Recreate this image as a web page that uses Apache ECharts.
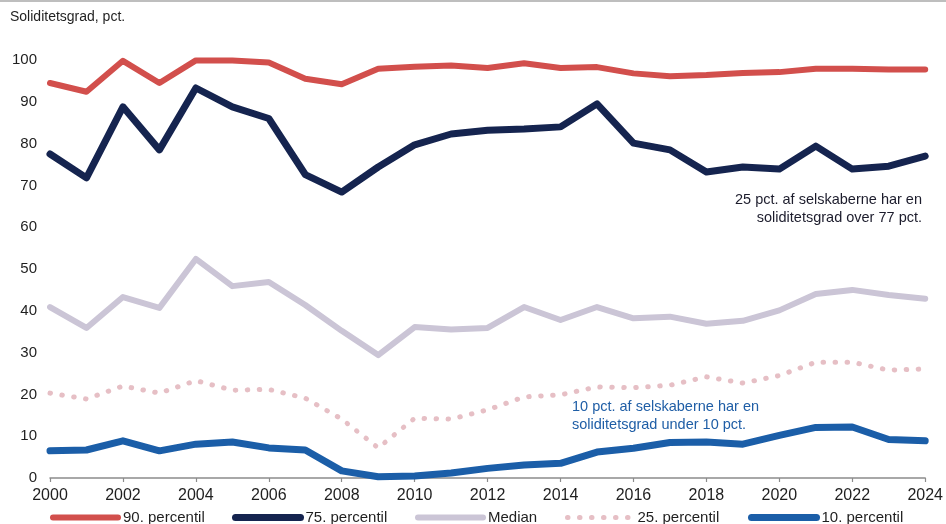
<!DOCTYPE html>
<html>
<head>
<meta charset="utf-8">
<script src="https://cdn.jsdelivr.net/npm/echarts@6/dist/echarts.min.js"></script>
<style>
  html, body { margin: 0; padding: 0; background: #fff; }
  #chart { width: 946px; height: 524px; }
</style>
</head>
<body>
<div id="chart"></div>
<script>
// Soliditetsgrad (equity ratio) percentiles, 2000-2024
const years = [2000, 2001, 2002, 2003, 2004, 2005, 2006, 2007, 2008, 2009, 2010, 2011, 2012,
               2013, 2014, 2015, 2016, 2017, 2018, 2019, 2020, 2021, 2022, 2023, 2024];
const p90 = [94.5, 92.4, 99.8, 94.5, 99.9, 99.9, 99.4, 95.5, 94.2, 97.9, 98.4, 98.7, 98.1,
             99.2, 98.1, 98.3, 96.8, 96.1, 96.4, 96.9, 97.1, 97.9, 97.9, 97.7, 97.7];
const p75 = [77.5, 71.8, 88.8, 78.5, 93.3, 88.8, 86.0, 72.6, 68.4, 74.4, 79.7, 82.3, 83.2,
             83.5, 84.0, 89.5, 80.1, 78.5, 73.2, 74.4, 73.9, 79.4, 73.9, 74.6, 77.0];
const median = [40.9, 35.9, 43.3, 40.7, 52.4, 45.9, 46.9, 41.4, 35.2, 29.4, 36.1, 35.5, 35.9,
                40.9, 37.8, 40.9, 38.2, 38.6, 36.9, 37.6, 40.1, 44.0, 45.0, 43.8, 42.9];
const p25 = [20.3, 18.9, 22.0, 20.3, 23.3, 21.0, 21.2, 19.1, 14.1, 7.2, 14.3, 14.1, 16.3,
             19.4, 19.9, 21.8, 21.6, 22.2, 24.2, 22.7, 24.5, 27.7, 27.7, 25.8, 26.1];
const p10 = [6.5, 6.7, 8.9, 6.5, 8.1, 8.6, 7.2, 6.7, 1.7, 0.3, 0.5, 1.2, 2.3,
             3.1, 3.5, 6.2, 7.1, 8.5, 8.6, 8.1, 10.2, 12.1, 12.2, 9.2, 8.9];
const yTicks = [0, 10, 20, 30, 40, 50, 60, 70, 80, 90, 100];

const seriesNames = ['90. percentil', '75. percentil', 'Median', '25. percentil', '10. percentil'];
const seriesValues = [p90, p75, median, p25, p10];
const seriesColors = ['#d24f4c', '#15244f', '#cbc5d6', '#e6bfc5', '#1b5ea8'];
const seriesWidths = [6, 7, 6, 5, 7];
const seriesDash = ['solid', 'solid', 'solid', [0.5, 11.5], 'solid'];

const FONT = '"Liberation Sans", Arial, sans-serif';
const TXT = '#1f1f1f';

const chart = echarts.init(document.getElementById('chart'), null, { renderer: 'canvas' });

const series = seriesNames.map((name, i) => ({
  name,
  type: 'line',
  data: years.map((y, k) => [y, seriesValues[i][k]]),
  showSymbol: false,
  symbol: 'none',
  smooth: false,
  silent: true,
  color: seriesColors[i],
  lineStyle: {
    color: seriesColors[i],
    width: seriesWidths[i],
    type: seriesDash[i],
    cap: 'round',
    join: 'round'
  },
  z: 10 - i
}));

// one legend block per series so each entry sits in its own slot along the bottom
const legendLefts = [50, 232, 415, 565, 748];
const legends = seriesNames.map((name, i) => ({
  data: [name],
  left: legendLefts[i],
  top: 510,
  padding: 0,
  itemWidth: 65,
  itemHeight: 14,
  itemGap: 0,
  itemStyle: { opacity: 0 },
  lineStyle: { width: 'inherit', type: 'inherit', cap: 'round' },
  textStyle: { fontFamily: FONT, fontSize: 15, color: TXT },
  itemTextGap: 5,
  selectedMode: false
}));

chart.setOption({
  animation: false,
  backgroundColor: '#ffffff',
  grid: { left: 50, right: 16, top: 60, bottom: 46, containLabel: false },
  xAxis: {
    type: 'value',
    min: years[0],
    max: years[years.length - 1],
    interval: 2,
    axisLine: { show: true, lineStyle: { color: '#8c8c8c', width: 1.5 } },
    axisTick: { show: true, length: 4, lineStyle: { color: '#8c8c8c', width: 1.2 } },
    splitLine: { show: false },
    axisLabel: {
      formatter: v => String(v),
      fontFamily: FONT, fontSize: 16, color: TXT, margin: 10
    }
  },
  yAxis: {
    type: 'value',
    min: yTicks[0],
    max: yTicks[yTicks.length - 1],
    interval: 10,
    axisLine: { show: false },
    axisTick: { show: false },
    splitLine: { show: false },
    axisLabel: { fontFamily: FONT, fontSize: 15, color: TXT, margin: 13 }
  },
  legend: legends,
  series,
  graphic: [
    { type: 'line', shape: { x1: 0, y1: 1, x2: 946, y2: 1 },
      style: { stroke: '#a8a8a8', lineWidth: 1.5 }, silent: true },
    { type: 'text', x: 10, y: 10,
      style: { text: 'Soliditetsgrad, pct.', font: '14px ' + FONT, fill: TXT } },
    { type: 'text', x: 922, y: 191,
      style: { text: '25 pct. af selskaberne har en\nsoliditetsgrad over 77 pct.',
               font: '14.5px ' + FONT, fill: '#1c1c2c', align: 'right', verticalAlign: 'top',
               lineHeight: 18 } },
    { type: 'text', x: 572, y: 398,
      style: { text: '10 pct. af selskaberne har en\nsoliditetsgrad under 10 pct.',
               font: '14.5px ' + FONT, fill: '#1f5ea6', align: 'left', verticalAlign: 'top',
               lineHeight: 18 } }
  ]
});
</script>
</body>
</html>
